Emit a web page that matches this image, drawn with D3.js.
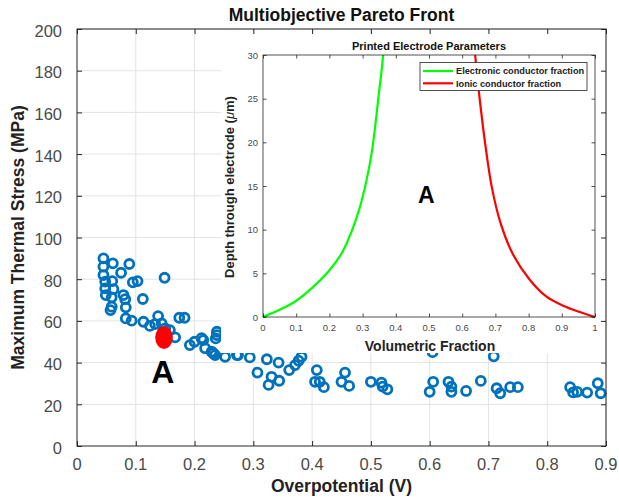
<!DOCTYPE html>
<html><head><meta charset="utf-8">
<script src="https://cdn.jsdelivr.net/npm/d3@7"></script>
<style>body{margin:0;background:#fff} text{font-family:"Liberation Sans",Arial,sans-serif}</style>
</head><body><svg id="c" width="619" height="499"></svg>
<script>
// ---------------- data ----------------
const overpotential = [0.045,0.045,0.061,0.089,0.075,0.045,0.048,0.060,0.095,0.103,0.149,0.048,0.062,0.049,0.059,0.079,0.082,0.112,0.083,0.057,0.059,0.083,0.093,0.113,0.124,0.138,0.133,0.144,0.150,0.158,0.167,0.174,0.183,0.192,0.212,0.200,0.238,0.236,0.218,0.229,0.215,0.232,0.252,0.274,0.294,0.323,0.343,0.307,0.331,0.326,0.344,0.361,0.371,0.377,0.382,0.408,0.405,0.413,0.420,0.456,0.450,0.463,0.500,0.518,0.528,0.520,0.605,0.709,0.606,0.600,0.632,0.637,0.637,0.662,0.687,0.714,0.720,0.737,0.750,0.839,0.844,0.851,0.868,0.886,0.891,0.235,0.272,0.238];
const thermalStress = [90.0,86.0,87.6,87.3,83.1,82.0,78.8,79.1,78.5,79.1,80.7,75.6,75.2,72.4,71.3,72.4,70.4,70.5,66.5,65.2,66.8,61.2,60.1,59.6,57.6,62.3,58.5,58.8,56.4,55.6,52.1,61.5,61.5,48.4,51.7,50.0,54.8,51.6,46.9,45.2,50.8,44.5,42.8,43.6,42.5,41.6,40.0,35.2,33.2,29.3,31.3,36.4,38.8,40.9,42.8,36.4,30.8,30.8,28.2,35.2,30.8,28.8,30.8,30.4,27.2,28.5,45.0,43.0,30.8,26.0,30.8,28.5,26.0,26.4,31.2,27.7,25.3,28.2,28.2,28.2,25.7,26.0,25.6,30.1,25.3,43.6,43.6,53.2];
const selectedOverpotential = [0.148];
const selectedStress = [52.0];
const mainXTicks = [0,0.1,0.2,0.3,0.4,0.5,0.6,0.7,0.8,0.9];
const mainXLabels = ["0","0.1","0.2","0.3","0.4","0.5","0.6","0.7","0.8","0.9"];
const mainYTicks = [0,20,40,60,80,100,120,140,160,180,200];
const mainYLabels = ["0","20","40","60","80","100","120","140","160","180","200"];

const electronicFraction = [0,0.048,0.096,0.147,0.197,0.237,0.267,0.292,0.312,0.327,0.339,0.349,0.356,0.362];
const electronicDepth    = [0,0.8,1.75,3.3,5.2,7.3,9.8,12.6,15.7,18.7,22.2,25.6,27.8,30];
const ionicFraction = [0.639,0.652,0.669,0.689,0.716,0.754,0.804,0.854,0.904,0.952,1.0];
const ionicDepth    = [30,25.2,19.9,14.9,10.7,7.1,4.24,2.33,1.3,0.6,0];
const insetXTicks = [0,0.1,0.2,0.3,0.4,0.5,0.6,0.7,0.8,0.9,1];
const insetXLabels = ["0","0.1","0.2","0.3","0.4","0.5","0.6","0.7","0.8","0.9","1"];
const insetYTicks = [0,5,10,15,20,25,30];
const insetYLabels = ["0","5","10","15","20","25","30"];
const legendLabels = ["Electronic conductor fraction","Ionic conductor fraction"];
const legendColors = ["#00ff00","#ff0000"];

// ---------------- drawing ----------------
const svg = d3.select("#c");
const x = d3.scaleLinear([0,0.9],[77,606]);
const y = d3.scaleLinear([0,200],[446,29]);
const axisCol = "#262626", tickTxt = "#4a4a4a", gridCol = "#e3e3e3";

// grid
svg.append("g").selectAll("line").data(mainXTicks.slice(1)).join("line")
  .attr("x1",d=>x(d)).attr("x2",d=>x(d)).attr("y1",y(0)).attr("y2",y(200))
  .attr("stroke",gridCol).attr("stroke-width",1);
svg.append("g").selectAll("line").data(mainYTicks.slice(1)).join("line")
  .attr("y1",d=>y(d)).attr("y2",d=>y(d)).attr("x1",x(0)).attr("x2",x(0.9))
  .attr("stroke",gridCol).attr("stroke-width",1);

// scatter
const pts = overpotential.map((v,i)=>({v, s:thermalStress[i]}));
svg.append("g").selectAll("circle").data(pts).join("circle")
  .attr("cx",d=>x(d.v)).attr("cy",d=>y(d.s)).attr("r",4.5)
  .attr("fill","none").attr("stroke","#0072BD").attr("stroke-width",2.8);

// selected point
svg.append("g").selectAll("ellipse").data(selectedOverpotential).join("ellipse")
  .attr("cx",d=>x(d)).attr("cy",(d,i)=>y(selectedStress[i])).attr("rx",8.8).attr("ry",11.3)
  .attr("fill","#ff0000");
svg.append("text").attr("x",x(0.146)).attr("y",y(30.2)).attr("text-anchor","middle")
  .attr("font-size",32).attr("font-weight","bold").attr("fill","#000").text("A");

// inset white background
svg.append("rect").attr("x",221).attr("y",31).attr("width",383).attr("height",322).attr("fill","#fff");

// main axes box + ticks
svg.append("rect").attr("x",x(0)).attr("y",y(200)).attr("width",x(0.9)-x(0)).attr("height",y(0)-y(200))
  .attr("fill","none").attr("stroke",axisCol).attr("stroke-width",1);
const mb = svg.append("g").attr("transform",`translate(0,${y(0)})`).call(d3.axisBottom(x).tickValues(mainXTicks).tickSize(-5).tickFormat(""));
const mt = svg.append("g").attr("transform",`translate(0,${y(200)})`).call(d3.axisTop(x).tickValues(mainXTicks).tickSize(-5).tickFormat(""));
const ml = svg.append("g").attr("transform",`translate(${x(0)},0)`).call(d3.axisLeft(y).tickValues(mainYTicks).tickSize(-5).tickFormat(""));
const mr = svg.append("g").attr("transform",`translate(${x(0.9)},0)`).call(d3.axisRight(y).tickValues(mainYTicks).tickSize(-5).tickFormat(""));
[mb,mt,ml,mr].forEach(g=>{g.select(".domain").remove(); g.selectAll("line").attr("stroke",axisCol);});

svg.append("g").selectAll("text").data(mainXTicks).join("text")
  .attr("x",d=>x(d)).attr("y",470).attr("text-anchor","middle")
  .attr("font-size",16.5).attr("fill",tickTxt).text((d,i)=>mainXLabels[i]);
svg.append("g").selectAll("text").data(mainYTicks).join("text")
  .attr("x",62).attr("y",d=>y(d)+7.5).attr("text-anchor","end")
  .attr("font-size",16.5).attr("fill",tickTxt).text((d,i)=>mainYLabels[i]);

svg.append("text").attr("x",341.5).attr("y",20.5).attr("text-anchor","middle")
  .attr("font-size",17.5).attr("font-weight","bold").attr("fill","#111").text("Multiobjective Pareto Front");
svg.append("text").attr("x",341.5).attr("y",492).attr("text-anchor","middle")
  .attr("font-size",17.5).attr("font-weight","bold").attr("fill","#222").text("Overpotential (V)");
svg.append("text").attr("transform","translate(24,237.5) rotate(-90)").attr("text-anchor","middle")
  .attr("font-size",17.5).attr("font-weight","bold").attr("fill","#222").text("Maximum Thermal Stress (MPa)");

// ---------------- inset ----------------
const ix = d3.scaleLinear([0,1],[263,595]);
const iy = d3.scaleLinear([0,30],[317,55]);
const ins = svg.append("g");
const line = d3.line().x(d=>ix(d[0])).y(d=>iy(d[1])).curve(d3.curveCatmullRom.alpha(0.5));
ins.append("path").datum(electronicFraction.map((f,i)=>[f,electronicDepth[i]]))
  .attr("d",line).attr("fill","none").attr("stroke",legendColors[0]).attr("stroke-width",2.2);
ins.append("path").datum(ionicFraction.map((f,i)=>[f,ionicDepth[i]]))
  .attr("d",line).attr("fill","none").attr("stroke",legendColors[1]).attr("stroke-width",2.2);

ins.append("rect").attr("x",ix(0)).attr("y",iy(30)).attr("width",ix(1)-ix(0)).attr("height",iy(0)-iy(30))
  .attr("fill","none").attr("stroke",axisCol).attr("stroke-width",0.8);
const ib = ins.append("g").attr("transform",`translate(0,${iy(0)})`).call(d3.axisBottom(ix).tickValues(insetXTicks).tickSize(-3.5).tickFormat(""));
const it = ins.append("g").attr("transform",`translate(0,${iy(30)})`).call(d3.axisTop(ix).tickValues(insetXTicks).tickSize(-3.5).tickFormat(""));
const il = ins.append("g").attr("transform",`translate(${ix(0)},0)`).call(d3.axisLeft(iy).tickValues(insetYTicks).tickSize(-3.5).tickFormat(""));
const ir = ins.append("g").attr("transform",`translate(${ix(1)},0)`).call(d3.axisRight(iy).tickValues(insetYTicks).tickSize(-3.5).tickFormat(""));
[ib,it,il,ir].forEach(g=>{g.select(".domain").remove(); g.selectAll("line").attr("stroke",axisCol).attr("stroke-width",0.8);});

ins.append("g").selectAll("text").data(insetXTicks).join("text")
  .attr("x",d=>ix(d)).attr("y",331).attr("text-anchor","middle")
  .attr("font-size",9.5).attr("fill",tickTxt).text((d,i)=>insetXLabels[i]);
ins.append("g").selectAll("text").data(insetYTicks).join("text")
  .attr("x",258).attr("y",d=>iy(d)+3.5).attr("text-anchor","end")
  .attr("font-size",9.5).attr("fill",tickTxt).text((d,i)=>insetYLabels[i]);

ins.append("text").attr("x",429).attr("y",50).attr("text-anchor","middle")
  .attr("font-size",11).attr("font-weight","bold").attr("fill","#111").text("Printed Electrode Parameters");
ins.append("text").attr("x",430).attr("y",351).attr("text-anchor","middle")
  .attr("font-size",14).attr("font-weight","bold").attr("fill","#222").text("Volumetric Fraction");
const yl = ins.append("text").attr("transform","translate(234,187) rotate(-90)").attr("text-anchor","middle")
  .attr("font-size",13).attr("font-weight","bold").attr("fill","#222");
yl.append("tspan").text("Depth through electrode (");
yl.append("tspan").attr("font-style","italic").attr("font-weight","normal").text("μ");
yl.append("tspan").text("m)");

ins.append("text").attr("x",ix(0.492)).attr("y",iy(13.1)).attr("text-anchor","middle")
  .attr("font-size",23).attr("font-weight","bold").attr("fill","#000").text("A");

// legend
const lg = ins.append("g");
lg.append("rect").attr("x",420).attr("y",62.5).attr("width",167).attr("height",28)
  .attr("fill","#fff").attr("stroke",axisCol).attr("stroke-width",0.8);
legendLabels.forEach((lab,i)=>{
  const yy = 71 + i*12.3;
  lg.append("line").attr("x1",423).attr("x2",453).attr("y1",yy).attr("y2",yy)
    .attr("stroke",legendColors[i]).attr("stroke-width",2.2);
  lg.append("text").attr("x",456).attr("y",yy+3.2).attr("font-size",9.2).attr("font-weight","bold")
    .attr("fill","#222").text(lab);
});
</script></body></html>
